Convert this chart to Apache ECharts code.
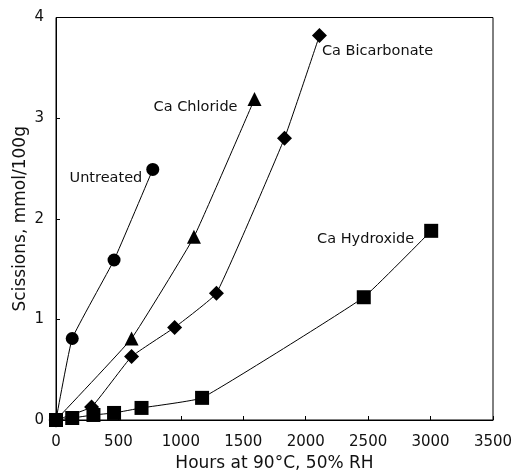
<!DOCTYPE html>
<html><head><meta charset="utf-8">
<script src="https://cdn.jsdelivr.net/npm/echarts@6/dist/echarts.min.js"></script>
<style>html,body{margin:0;padding:0;background:#fff}#c{width:514px;height:471px}</style>
</head><body><div id="c"></div>
<script>
const xTicks = [0, 500, 1000, 1500, 2000, 2500, 3000, 3500];
const yTicks = [0, 1, 2, 3, 4];
const untreatedX = [0, 130, 465, 775];
const untreatedY = [0, 0.81, 1.59, 2.49];
const chlorideX = [0, 605, 1105, 1590];
const chlorideY = [0, 0.81, 1.82, 3.19];
const bicarbX = [0, 285, 605, 950, 1285, 1830, 2110];
const bicarbY = [0, 0.13, 0.63, 0.92, 1.26, 2.80, 3.82];
const hydroxX = [0, 130, 300, 465, 685, 1170, 2465, 3005];
const hydroxY = [0, 0.02, 0.05, 0.07, 0.12, 0.22, 1.22, 1.88];
const seriesNames = ['Untreated', 'Ca Chloride', 'Ca Bicarbonate', 'Ca Hydroxide'];

const FONT = 'DejaVu Sans';
function pts(xs, ys){ return xs.map((x,i)=>[x, ys[i]]); }
function mk(name, xs, ys, symbol, size, labelCfg){
  const d = pts(xs, ys).map((p,i)=>{
    if(i === xs.length-1){
      return {value:p, label:Object.assign({show:true, formatter:name, color:'#111', fontFamily:FONT, fontSize:14.5}, labelCfg)};
    }
    return {value:p};
  });
  return {name, type:'line', data:d, symbol, symbolSize:size, smooth:0.1,
    lineStyle:{color:'#000', width:1}, itemStyle:{color:'#000'}, label:{show:false}, z:3, animation:false};
}
const chart = echarts.init(document.getElementById('c'));
chart.setOption({
  animation:false,
  grid:{left:56, right:21, top:17.5, bottom:51, show:true, borderColor:'#000', borderWidth:1,
    containLabel:false, outerBoundsMode:'none'},
  xAxis:{type:'value', min:xTicks[0], max:xTicks[xTicks.length-1], interval:500,
    name:'Hours at 90°C, 50% RH', nameLocation:'middle', nameGap:35, nameMoveOverlap:false,
    nameTextStyle:{fontFamily:FONT, fontSize:17, color:'#111'},
    axisLine:{lineStyle:{color:'#000'}}, axisTick:{inside:true, length:4, lineStyle:{color:'#000'}},
    axisLabel:{fontFamily:FONT, fontSize:15, color:'#111', margin:15, formatter:v=>String(v)}, splitLine:{show:false}},
  yAxis:{type:'value', min:yTicks[0], max:yTicks[yTicks.length-1], interval:1,
    name:'Scissions, mmol/100g', nameLocation:'middle', nameGap:27, nameMoveOverlap:false,
    nameTextStyle:{fontFamily:FONT, fontSize:17, color:'#111'},
    axisLine:{show:true, lineStyle:{color:'#000'}}, axisTick:{show:true, inside:true, length:4, lineStyle:{color:'#000'}},
    axisLabel:{fontFamily:FONT, fontSize:15, color:'#111', margin:12, formatter:v=>String(v)}, splitLine:{show:false}},
  series:[
    mk(seriesNames[0], untreatedX, untreatedY, 'circle', 13, {position:'left', offset:[1,9]}),
    mk(seriesNames[1], chlorideX, chlorideY, 'triangle', 14, {position:'left', offset:[-5,8]}),
    mk(seriesNames[2], bicarbX, bicarbY, 'diamond', 15, {position:'right', offset:[-10,16]}),
    mk(seriesNames[3], hydroxX, hydroxY, 'rect', 14, {position:'left', offset:[-5,8]})
  ]
});
</script></body></html>
